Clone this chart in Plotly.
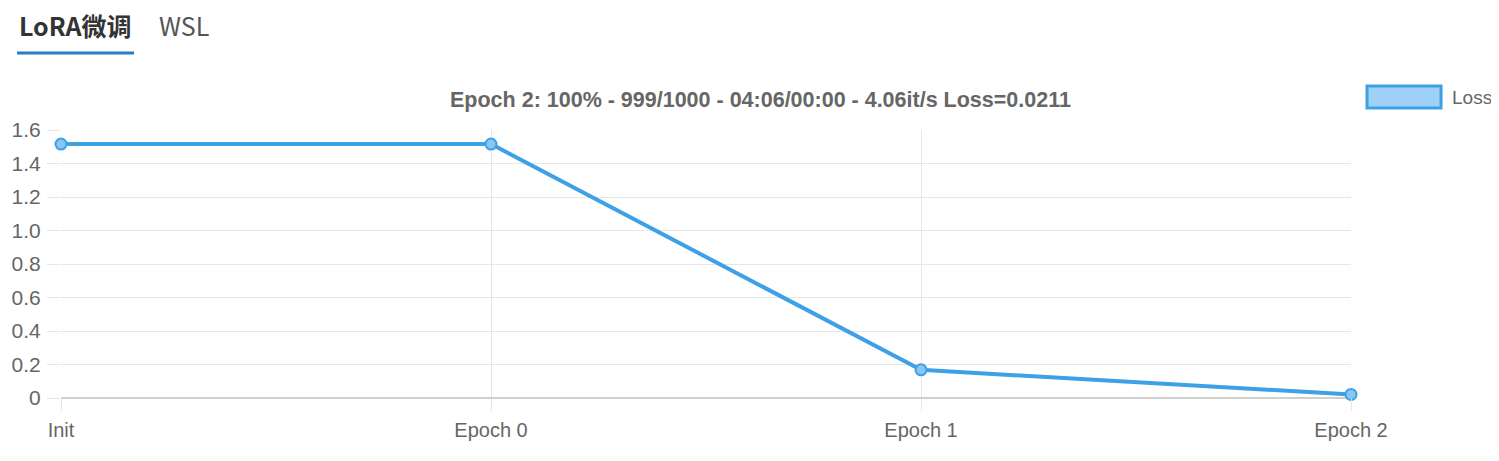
import plotly.graph_objects as go

# ── data ─────────────────────────────────────────────────────────────
EPOCHS = ["Init", "Epoch 0", "Epoch 1", "Epoch 2"]
LOSS = [1.516, 1.516, 0.168, 0.0211]
Y_TICKS = [0, 0.2, 0.4, 0.6, 0.8, 1.0, 1.2, 1.4, 1.6]
Y_TICK_TEXT = ["0", "0.2", "0.4", "0.6", "0.8", "1.0", "1.2", "1.4", "1.6"]
TITLE = "Epoch 2: 100% - 999/1000 - 04:06/00:00 - 4.06it/s Loss=0.0211"
TABS = ["LoRA微调", "WSL"]

# ── style ────────────────────────────────────────────────────────────
LINE_BLUE = "#3ea1e8"
GRID = "#e6e6e6"
TEXT_GRAY = "#666666"
FONT = "'Liberation Sans', Arial, sans-serif"
CJK_FONT = "'Noto Sans CJK SC', sans-serif"

fig = go.Figure()
fig.add_trace(go.Scatter(
    x=EPOCHS,
    y=LOSS,
    mode="lines+markers",
    line=dict(color=LINE_BLUE, width=4),
    marker=dict(size=11, color="#8cc6f0", line=dict(color=LINE_BLUE, width=2)),
    name="Loss",
    showlegend=False,
    cliponaxis=False,
))

# page body has an 8px margin on every side, so the figure is window - 16
fig.update_layout(
    width=1483,
    height=445,
    plot_bgcolor="white",
    paper_bgcolor="white",
    margin=dict(l=53, r=140, t=122, b=55),
    font=dict(family=FONT, size=21, color=TEXT_GRAY),
    showlegend=False,
)
fig.update_xaxes(
    type="category",
    range=[0, len(EPOCHS) - 1],
    automargin=False,
    showgrid=True,
    gridcolor=GRID,
    gridwidth=1,
    ticks="outside",
    ticklen=12,
    tickcolor=GRID,
    tickfont=dict(size=20, color=TEXT_GRAY),
    ticklabelstandoff=2,
    showline=False,
    zeroline=False,
)
fig.update_yaxes(
    range=[0, 1.6],
    automargin=False,
    tickvals=Y_TICKS,
    ticktext=Y_TICK_TEXT,
    showgrid=True,
    gridcolor=GRID,
    gridwidth=1,
    ticks="outside",
    ticklen=13,
    tickcolor=GRID,
    tickfont=dict(size=21, color=TEXT_GRAY),
    ticklabelstandoff=2,
    zeroline=True,
    zerolinecolor="#cfcfcf",
    zerolinewidth=1.5,
)

# title
fig.add_annotation(
    text=f"<b>{TITLE}</b>",
    xref="paper", yref="paper", x=0.542, y=1.0, yshift=30,
    xanchor="center", yanchor="middle", showarrow=False,
    font=dict(family=FONT, size=21.5, color=TEXT_GRAY),
)

# legend box (drawn as a shape)
fig.add_shape(
    type="rect", xref="paper", yref="paper",
    x0=1.0124, x1=1.0698, y0=1.082, y1=1.164,
    fillcolor="#9fd0f5", line=dict(color=LINE_BLUE, width=3),
)
fig.add_annotation(
    text="Loss", xref="paper", yref="paper", x=1.0765, y=1.123,
    xanchor="left", yanchor="middle", showarrow=False,
    font=dict(family=FONT, size=19, color=TEXT_GRAY),
)

# tabs on top
fig.add_annotation(
    text=f"<b>{TABS[0]}</b>", xref="paper", yref="paper",
    x=-0.0342, y=1.39, xanchor="left", yanchor="middle", showarrow=False,
    font=dict(family=CJK_FONT, size=25, color="#333333"),
)
fig.add_annotation(
    text=TABS[1], xref="paper", yref="paper",
    x=0.0748, y=1.39, xanchor="left", yanchor="middle", showarrow=False,
    font=dict(family=CJK_FONT, size=25, color="#555555"),
)
fig.add_shape(
    type="line", xref="paper", yref="paper",
    x0=-0.0341, x1=0.0566, y0=1.2873, y1=1.2873,
    line=dict(color="#2b7cc4", width=3),
)

fig.write_html("out.html")
